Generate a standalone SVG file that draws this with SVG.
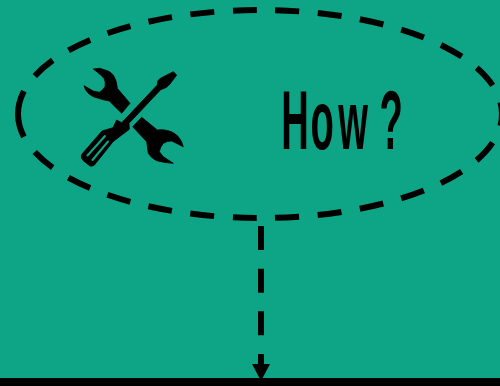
<svg xmlns="http://www.w3.org/2000/svg" width="500" height="386" viewBox="0 0 500 386">
<style>.d{fill:none;stroke:#000;stroke-width:6}.i{fill:#000;stroke:#000;stroke-width:.8;stroke-linejoin:round}</style>
<rect width="500" height="386" fill="#0ea586"/>
<g id="node-how">
<path class="d" stroke-dasharray="24 18.55" d="M18 114A242 104 0 0 1 502 114A242 104 0 0 1 18 114Z"/>
<g id="icon">
<path class="i" d="M93.3 69Q100 67 105 70Q110 71 113.3 75Q117 81 117.3 88.3L130 103.3L121.7 113.3L109.3 101Q103 100 98.3 98.3Q92 97 88.3 93.3Q85 90 84 85.7L93.3 91L99.3 92.3Q103 90 105 86.7Q106 82 104 78.3L100 74.3Z"/>
<path class="i" d="M141.7 117.3L132.7 126.7L146.7 141.7L148.3 153.3Q151 158 156.7 160.7Q165 163 173.3 163.3L163.3 156.7L159.3 151.7Q160 147 163.3 143.3Q167 141 171.7 141L183.3 146.7Q182 141 178.3 136.7Q174 132 168.3 130.7Q162 129 157.3 130Z"/>
<path class="i" d="M173.3 71.7L176.7 75L170 84Q167 88 160.7 89.7L129 123.3L129.3 129.3L121.7 135L113 141.7L96 163Q94 167 90 166L83 160.5Q80 157 82 154L102 131L113 127.7L116.7 120L121.7 122.7L157.3 85Q157 80 161 78Z"/>
<path d="M87.5 155.5L105 136M92.5 160L108 141.5" fill="none" stroke="#0ea586" stroke-width="2" stroke-linecap="round"/>
</g>
<text transform="translate(283 149) scale(.46 1)" x="-4 60 120 210" y="0" font-family="Liberation Sans, sans-serif" font-weight="700" font-size="83" fill="#000">How?</text>
</g>
<g id="connectors">
<path class="d" stroke-dasharray="24 18.67" d="M261 226V364"/>
<path d="M252 364H270L261 381Z" fill="#000"/>
</g>
<rect id="baseline" y="378" width="500" height="8" fill="#000"/>
</svg>
